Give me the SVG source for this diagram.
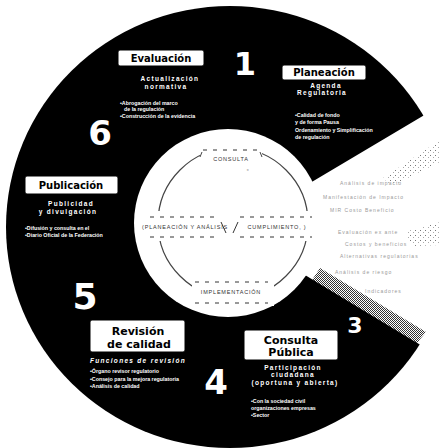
<svg xmlns="http://www.w3.org/2000/svg" width="440" height="448" viewBox="0 0 440 448">
<style>
.lbl{font-family:"DejaVu Sans","Liberation Sans",sans-serif;font-weight:bold;font-size:10px;fill:#000;text-anchor:middle}
.lbl2{font-family:"DejaVu Sans","Liberation Sans",sans-serif;font-weight:bold;font-size:11px;fill:#000;text-anchor:middle}
.box{fill:#fff;stroke:#000;stroke-width:1}
.num{font-family:"DejaVu Sans","Liberation Sans",sans-serif;font-weight:bold;fill:#fff;text-anchor:middle}
.sub{font-family:"Liberation Sans",sans-serif;font-weight:bold;font-size:6.5px;fill:#fff;text-anchor:middle;letter-spacing:1.3px}
.bul{font-family:"Liberation Sans",sans-serif;font-weight:bold;font-size:5.3px;fill:#fff}
.faint{font-family:"Liberation Sans",sans-serif;font-size:5px;fill:#999;letter-spacing:1px}
.ctr{font-family:"Liberation Sans",sans-serif;font-size:5.5px;fill:#333;text-anchor:middle;letter-spacing:0.8px}
.dash{stroke:#333;stroke-width:1;stroke-dasharray:4 6;fill:none}
</style>
<defs>
<pattern id="dith" width="2" height="2" patternUnits="userSpaceOnUse"><rect width="1" height="1" fill="#000"/><rect x="1" y="1" width="1" height="1" fill="#000"/></pattern>
<pattern id="dith2" width="5" height="5" patternUnits="userSpaceOnUse"><rect width="1" height="1" fill="#777"/><rect x="3" y="2" width="1" height="1" fill="#aaa"/></pattern>
</defs>
<rect width="440" height="448" fill="#fff"/>
<g id="ring">
<ellipse cx="230" cy="227" rx="224" ry="221" fill="#000"/>
<polygon points="228,223 305,186 500,70 500,393 305,275" fill="#fff"/>
<polygon points="383,178 440,140 440,162 392,186" fill="url(#dith2)"/>
<polygon points="405,232 440,222 440,245 412,246" fill="url(#dith2)"/>
<circle cx="228" cy="223" r="94" fill="#fff"/>
<polygon points="312,280 417,343 426,332 320,268" fill="url(#dith)" opacity="0.8"/>
</g>
<g id="center">
<circle cx="233" cy="223" r="75" fill="none" stroke="#444" stroke-width="1.2"/>
<rect x="200" y="143" width="62" height="22" fill="#fff"/>
<rect x="150" y="211" width="165" height="30" fill="#fff"/>
<rect x="192" y="278" width="82" height="28" fill="#fff"/>
<line class="dash" x1="203" y1="150" x2="260" y2="150"/>
<path d="M200,157 L202,152 M262,157 L260,152" stroke="#444" stroke-width="1"/>
<text class="ctr" x="231" y="161">CONSULTA</text>
<text class="ctr" x="248" y="170">„</text>
<line class="dash" x1="150" y1="217" x2="218" y2="217"/>
<line class="dash" x1="150" y1="237" x2="218" y2="237"/>
<line class="dash" x1="240" y1="217" x2="312" y2="217"/>
<line class="dash" x1="240" y1="237" x2="312" y2="237"/>
<text class="ctr" x="185" y="229" letter-spacing="0.3">(PLANEACIÓN Y ANÁLISIS</text>
<text class="ctr" x="277" y="229">CUMPLIMIENTO, )</text>
<line x1="221" y1="222" x2="226" y2="233" stroke="#333" stroke-width="1"/>
<line x1="238" y1="222" x2="233" y2="233" stroke="#333" stroke-width="1"/>
<line class="dash" x1="195" y1="282" x2="268" y2="282"/>
<line class="dash" x1="195" y1="303" x2="268" y2="303"/>
<text class="ctr" x="231" y="294" letter-spacing="1.2">IMPLEMENTACIÓN</text>
</g>
<g id="seg1-evaluacion">
<rect class="box" x="118" y="50" width="86" height="16" rx="2"/>
<text class="lbl" x="161" y="62">Evaluación</text>
<text class="sub" x="170" y="81">Actualización</text>
<text class="sub" x="166" y="89">normativa</text>
<text class="bul" x="120" y="105">•Abrogación del marco</text>
<text class="bul" x="124" y="111">de la regulación</text>
<text class="bul" x="120" y="118">•Construcción de la evidencia</text>
<text class="num" x="245" y="75" font-size="32">1</text>
</g>
<g id="seg2-planeacion">
<rect class="box" x="282" y="65" width="84" height="15" rx="2"/>
<text class="lbl" x="324" y="76">Planeación</text>
<text class="sub" x="326" y="88" letter-spacing="2">Agenda</text>
<text class="sub" x="322" y="95" letter-spacing="1.8">Regulatoria</text>
<text class="bul" x="295" y="117">•Calidad de fondo</text>
<text class="bul" x="295" y="124">y de forma Pausa</text>
<text class="bul" x="295" y="132">Ordenamiento y Simplificación</text>
<text class="bul" x="295" y="139">de regulación</text>
<text class="faint" x="340" y="185">Análisis de impacto</text>
<text class="faint" x="323" y="199">Manifestación de Impacto</text>
<text class="faint" x="330" y="212">MIR   Costo   Beneficio</text>
<text class="faint" x="338" y="234">Evaluación ex ante</text>
<text class="faint" x="345" y="246">Costos y beneficios</text>
<text class="faint" x="340" y="258">Alternativas regulatorias</text>
<text class="faint" x="335" y="274">Análisis de riesgo</text>
<text class="faint" x="365" y="293">Indicadores</text>
</g>
<g id="seg3">
<text class="num" x="355" y="333" font-size="22" stroke="#000" stroke-width="1.5" paint-order="stroke">3</text>
</g>
<g id="seg3-consulta">
<rect class="box" x="244" y="330" width="94" height="30" rx="2"/>
<text class="lbl2" x="291" y="344">Consulta</text>
<text class="lbl2" x="291" y="356">Pública</text>
<text class="sub" x="293" y="370">Participación</text>
<text class="sub" x="293" y="377">ciudadana</text>
<text class="sub" x="295" y="385">(oportuna y abierta)</text>
<text class="bul" x="251" y="403">•Con la sociedad civil</text>
<text class="bul" x="251" y="410">organizaciones empresas</text>
<text class="bul" x="251" y="417">•Sector</text>
</g>
<g id="seg4">
<text class="num" x="216" y="394" font-size="34">4</text>
</g>
<g id="seg5-revision">
<text class="num" x="85" y="309" font-size="36">5</text>
<rect class="box" x="90" y="320" width="95" height="32" rx="2"/>
<text class="lbl2" x="138" y="335">Revisión</text>
<text class="lbl2" x="139" y="348">de calidad</text>
<text class="sub" x="138" y="363" font-style="italic" letter-spacing="2.2">Funciones de revisión</text>
<text class="bul" x="90" y="373">•Órgano revisor regulatorio</text>
<text class="bul" x="90" y="381">•Consejo para la mejora regulatoria</text>
<text class="bul" x="90" y="388">•Análisis de calidad</text>
</g>
<g id="seg6-publicacion">
<text class="num" x="100" y="145" font-size="34">6</text>
<rect class="box" x="25" y="176" width="93" height="18" rx="2"/>
<text class="lbl" x="71" y="189">Publicación</text>
<text class="sub" x="71" y="206">Publicidad</text>
<text class="sub" x="68" y="214">y divulgación</text>
<text class="bul" x="25" y="230">•Difusión y consulta en el</text>
<text class="bul" x="25" y="237">•Diario Oficial de la Federación</text>
</g>
</svg>
